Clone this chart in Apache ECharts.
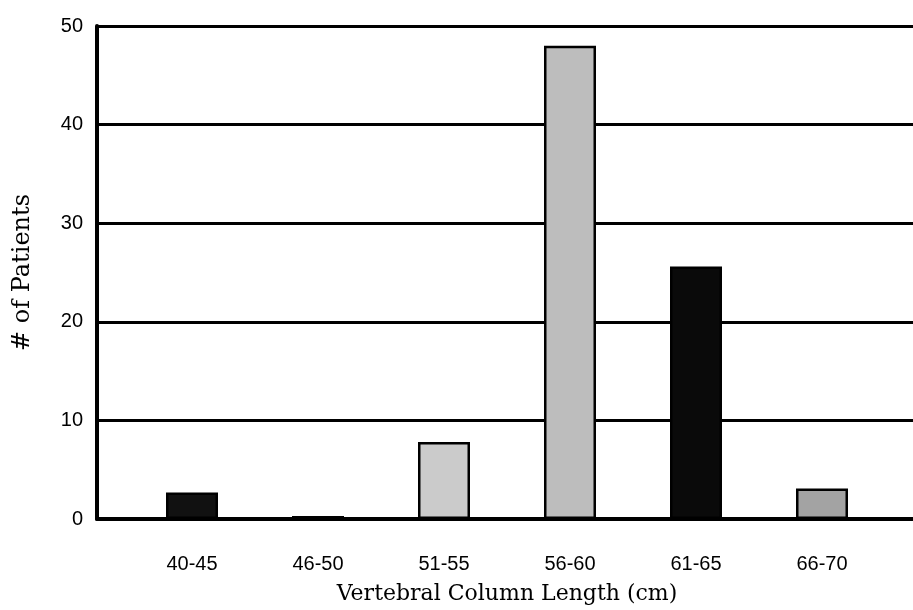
<!DOCTYPE html>
<html><head><meta charset="utf-8">
<script src="https://cdn.jsdelivr.net/npm/echarts@6/dist/echarts.min.js"></script>
<style>html,body{margin:0;padding:0;background:#fff}#c{width:913px;height:610px}</style>
</head><body><div id="c"></div>
<script>
const categories = ['40-45','46-50','51-55','56-60','61-65','66-70'];
const patients = [2.7, 0.3, 7.8, 48, 25.6, 3.1];
const barColors = ['#111111','#111111','#cbcbcb','#bdbdbd','#0a0a0a','#a3a3a3'];
const yTicks = [0, 10, 20, 30, 40, 50];

const chart = echarts.init(document.getElementById('c'));
chart.setOption({
  animation: false,
  backgroundColor: '#fff',
  grid: [
    {left: 97, right: 0, top: 26, bottom: 91},
    {left: 129, right: 28, top: 26, bottom: 91}
  ],
  xAxis: [
    {gridIndex: 0, type: 'value', min: 0, max: 1, axisLabel: {show: false}, axisTick: {show: false},
     splitLine: {show: false}, axisLine: {show: true, lineStyle: {color: '#000', width: 4}}},
    {gridIndex: 1, type: 'category', data: categories, axisLine: {show: false}, axisTick: {show: false},
     axisLabel: {margin: 35, fontSize: 20, color: '#000', fontFamily: 'Liberation Sans'},
     name: 'Vertebral Column Length (cm)', nameLocation: 'middle', nameGap: 64,
     nameTextStyle: {fontFamily: 'DejaVu Serif', fontSize: 22, color: '#000'}}
  ],
  yAxis: [
    {gridIndex: 0, type: 'value', min: yTicks[0], max: yTicks[yTicks.length-1], interval: 10,
     axisLine: {show: true, lineStyle: {color: '#000', width: 4}}, axisTick: {show: false},
     axisLabel: {fontSize: 20, color: '#000', margin: 14, fontFamily: 'Liberation Sans'},
     splitLine: {show: true, lineStyle: {color: '#000', width: 3}},
     name: '# of Patients', nameLocation: 'middle', nameGap: 62, nameRotate: 90,
     nameTextStyle: {fontFamily: 'DejaVu Serif', fontSize: 24, color: '#000'}},
    {gridIndex: 1, type: 'value', min: 0, max: 50, show: false}
  ],
  series: [{
    type: 'bar', xAxisIndex: 1, yAxisIndex: 1, barWidth: 52,
    data: patients.map((v, i) => ({value: v, itemStyle: {color: barColors[i]}})),
    itemStyle: {borderColor: '#000', borderWidth: 2.5}
  }]
});
</script></body></html>
